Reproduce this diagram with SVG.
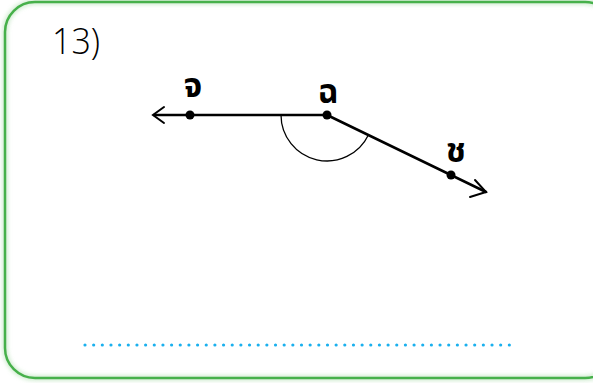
<svg xmlns="http://www.w3.org/2000/svg" width="593" height="383" viewBox="0 0 593 383">
<defs>
<style>
.ray{stroke:#000;stroke-width:2.5;fill:none;stroke-linecap:round}
.head{stroke:#000;stroke-width:2;fill:none;stroke-linecap:round;stroke-linejoin:miter}
.pt{fill:#000}
.lbl{font-family:"Noto Sans Thai","Noto Sans","DejaVu Sans",sans-serif;font-size:33px;font-weight:bold;fill:#000;text-anchor:middle}
</style>
<filter id="glow" x="-5%" y="-5%" width="110%" height="110%"><feGaussianBlur stdDeviation="2"/></filter>
</defs>
<rect width="593" height="383" fill="#fff"/>
<rect x="5" y="2" width="610" height="376" rx="30" ry="30" fill="none" stroke="#a8dca8" stroke-width="5" filter="url(#glow)" opacity="0.6"/>
<rect x="5" y="2" width="610" height="376" rx="30" ry="30" fill="none" stroke="#46b04a" stroke-width="2.5"/>
<text x="52" y="54" font-family="Open Sans, Liberation Sans, sans-serif" font-size="37" font-weight="300" fill="#000" textLength="48" lengthAdjust="spacingAndGlyphs">13)</text>
<g id="connectors">
<line class="ray" x1="154" y1="115" x2="327" y2="115"/>
<polyline class="head" points="164,107 153,115 164,123"/>
<line class="ray" x1="327" y1="115" x2="486" y2="192"/>
<polyline class="head" points="475,180 486,192 470,197"/>
<path d="M281,115 A46,46 0 0 0 368.4,135" fill="none" stroke="#000" stroke-width="1.3"/>
</g>
<g id="node-cho"><circle class="pt" cx="190" cy="115" r="4.5"/><text class="lbl" x="193" y="97">จ</text></g>
<g id="node-chor"><circle class="pt" cx="327" cy="115" r="4.5"/><text class="lbl" x="328" y="103">ฉ</text></g>
<g id="node-chang"><circle class="pt" cx="451" cy="175" r="4.5"/><text class="lbl" x="456" y="162">ช</text></g>
<line x1="85" y1="345" x2="510" y2="345" stroke="#1ab0ee" stroke-width="3.2" stroke-linecap="round" stroke-dasharray="0 8.66"/>
</svg>
